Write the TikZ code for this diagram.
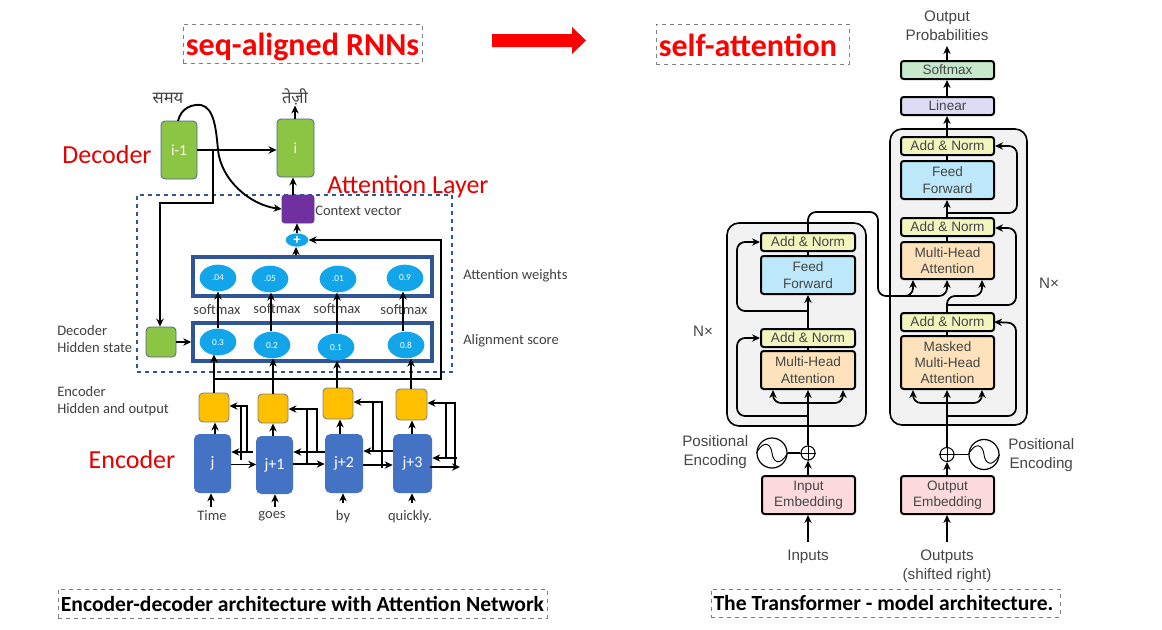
\documentclass[tikz,border=0pt]{standalone}
\usepackage{fontspec}
\setmainfont{Carlito}
\newfontfamily\helv{Liberation Sans}
\newfontfamily\deva[Script=Devanagari]{Noto Sans}
\usetikzlibrary{arrows.meta,calc,shapes.geometric}
\definecolor{lgreen}{HTML}{8CC443}
\definecolor{lpurple}{HTML}{7030A0}
\definecolor{lblue}{HTML}{4472C4}
\definecolor{lorange}{HTML}{FFC000}
\definecolor{lell}{HTML}{12A5EA}
\definecolor{ldark}{HTML}{2F5597}
\definecolor{ltxt}{HTML}{404040}
\definecolor{rtxt}{HTML}{454545}
\definecolor{ran}{HTML}{F2F5BE}
\definecolor{rff}{HTML}{BDE8F9}
\definecolor{rmh}{HTML}{FDE2BB}
\definecolor{rem}{HTML}{FDDADD}
\definecolor{rsm}{HTML}{C6E9CC}
\definecolor{rli}{HTML}{DCDDF5}
\definecolor{rbg}{HTML}{F2F2F2}
\newcommand{\bx}[7][]{%
  \pgfmathsetmacro{\cxx}{(#3+#5)/2}\pgfmathsetmacro{\cyy}{(#4+#6)/2}%
  \pgfmathsetmacro{\wdd}{(#5-#3)*0.75}\pgfmathsetmacro{\htt}{(#6-#4)*0.75}%
  \node[#1,minimum width=\wdd pt,minimum height=\htt pt] (#2) at (\cxx,\cyy) {#7};}
\tikzset{
  titlebox/.style={draw=gray,dashed,line width=0.5pt,inner sep=0pt,font=\bfseries},
  redtitle/.style={titlebox,text=red,font=\fontsize{24}{24}\selectfont\bfseries},
  blacktitle/.style={titlebox,text=black,font=\fontsize{16.2}{16.2}\selectfont\bfseries},
  redlabel/.style={text=red!90!black,inner sep=0pt,font=\fontsize{19.5}{20}\selectfont},
  greylabel/.style={text=ltxt,inner sep=0pt,font=\fontsize{10.9}{12.75}\selectfont,align=left},
  wordlabel/.style={text=ltxt,inner sep=0pt,font=\fontsize{10.9}{11}\selectfont},
  devalabel/.style={text=ltxt,inner sep=0pt,font=\deva\fontsize{12.4}{12.4}\selectfont},
  greenbox/.style={draw=ldark!60!gray,line width=0.6pt,fill=lgreen,rounded corners=3pt,text=white,inner sep=0pt,font=\fontsize{11.5}{11.5}\selectfont},
  purplebox/.style={draw=lpurple!70!ldark,line width=0.5pt,fill=lpurple,rounded corners=2pt,inner sep=0pt},
  bluebox/.style={fill=lblue,rounded corners=4pt,text=white,inner sep=0pt,font=\fontsize{12}{12}\selectfont},
  orangebox/.style={draw=gray,line width=0.7pt,fill=lorange,rounded corners=3pt,inner sep=0pt},
  scorebox/.style={draw=ldark,line width=2.6pt,fill=white,inner sep=0pt},
  scoreell/.style={ellipse,fill=lell,text=white,inner sep=0pt,font=\fontsize{7}{7}\selectfont,minimum width=27.5pt,minimum height=20pt},
  plusell/.style={ellipse,fill=lell,text=white,inner sep=0pt,font=\fontsize{11}{9}\selectfont\bfseries,minimum width=17pt,minimum height=10pt,text height=6pt,text depth=0pt},
  conn/.style={draw=black,line width=1.4pt,-{Stealth[length=6pt,width=5.5pt]}},
  plainconn/.style={draw=black,line width=1.4pt},
  rbox/.style={draw=black,line width=1.5pt,rounded corners=2pt,inner sep=0pt,text=rtxt,align=center,font=\helv\fontsize{10.2}{12.2}\selectfont},
  rlabel/.style={text=rtxt,inner sep=0pt,align=center,font=\helv\fontsize{11.4}{14}\selectfont},
  rconn/.style={draw=black,line width=1.3pt,rounded corners=6pt,-{Stealth[length=6pt,width=5.5pt]}},
  rplain/.style={draw=black,line width=1.3pt,rounded corners=6pt},
  stack/.style={draw=black,line width=1.2pt,fill=rbg,rounded corners=9pt,inner sep=0pt},
  addc/.style={circle,draw=black,line width=0.8pt,fill=white,inner sep=0pt,minimum size=10.5pt},
  sinc/.style={circle,draw=black,line width=0.9pt,fill=white,inner sep=0pt,minimum size=22.5pt},
}
\begin{document}
\begin{tikzpicture}[x=0.75pt,y=-0.75pt]
\useasboundingbox (0,0) rectangle (1162,629);

% titles
\bx[redtitle]{t1}{183}{24}{422}{63}{\raisebox{-9pt}[0pt][0pt]{seq-aligned RNNs}}
\bx[redtitle]{t2}{656}{24}{849}{64}{\raisebox{-9pt}[0pt][0pt]{self-attention}\kern7pt}
\bx[blacktitle]{t3}{58}{589}{547}{618}{\raisebox{-5.8pt}[0pt][0pt]{Encoder-decoder architecture with Attention Network}}
\bx[blacktitle]{t4}{711}{589}{1060}{617}{\raisebox{-5.8pt}[0pt][0pt]{The Transformer - model architecture.}\kern3pt}
\fill[red] (492,34) -- (572,34) -- (572,27) -- (586,40.5) -- (572,54) -- (572,47) -- (492,47) -- cycle;

% ---- left diagram ----
\bx[draw=ldark,dashed,line width=1pt,inner sep=0pt]{attn}{137}{195}{452}{372}{}
\node[redlabel] (lDec) at (107,155) {Decoder};
\node[redlabel] (lEnc) at (132,460) {Encoder};
\node[redlabel] (lAtt) at (408,187) {Attention Layer};
\node[greylabel,anchor=west] (lCtx) at (315,211) {Context vector};
\node[greylabel,anchor=west] (lAw) at (463,276) {Attention weights};
\node[greylabel,anchor=west] (lAs) at (463,341) {Alignment score};
\node[greylabel,anchor=west] (lDh) at (57,338.5) {Decoder\\Hidden state};
\node[greylabel,anchor=west] (lEh) at (57,401.5) {Encoder\\Hidden and output};
\node[devalabel] (wSamay) at (168,98) {समय};
\node[devalabel] (wTezi) at (295,97) {तेज़ी};

\bx[greenbox]{im}{161}{121}{197}{179}{i-1}
\bx[greenbox]{ii}{277}{119}{314}{177}{i}
\bx[purplebox]{ctx}{282}{195}{314}{223}{}
\node[plusell] (pl) at (297,240) {+};
\bx[scorebox]{wbox}{193}{257}{432}{296}{}
\bx[scorebox]{abox}{193}{323}{432}{361}{}
\node[scoreell] (w1) at (218,278) {.04};
\node[scoreell] (w2) at (270,279) {.05};
\node[scoreell] (w3) at (338,279) {.01};
\node[scoreell] (w4) at (405,278) {0.9};
\node[scoreell] (a1) at (218,342) {0.3};
\node[scoreell] (a2) at (272,345) {0.2};
\node[scoreell] (a3) at (336,347) {0.1};
\node[scoreell] (a4) at (406,345) {0.8};
\bx[greenbox]{dh}{146}{327}{176}{357}{}
\bx[orangebox]{o1}{199}{393}{229}{422}{}
\bx[orangebox]{o2}{258}{394}{288}{423}{}
\bx[orangebox]{o3}{323}{388}{353}{419}{}
\bx[orangebox]{o4}{396}{389}{427}{420}{}
\bx[bluebox]{e1}{194}{434}{231}{493}{j}
\bx[bluebox]{e2}{256}{436}{293}{494}{j+1}
\bx[bluebox]{e3}{325}{434}{363}{493}{j+2}
\bx[bluebox]{e4}{393}{434}{432}{493}{j+3}
\node[wordlabel] (s1) at (217,310) {softmax};
\node[wordlabel] (s2) at (277,309) {softmax};
\node[wordlabel] (s3) at (337,309) {softmax};
\node[wordlabel] (s4) at (404,310) {softmax};
\node[wordlabel] (w01) at (212,516) {Time};
\node[wordlabel] (w02) at (272,516) {goes};
\node[wordlabel] (w03) at (343,517) {by};
\node[wordlabel] (w04) at (410,517) {quickly.};

\coordinate (sw1) at (211,507); \coordinate (sw2) at (275,507);
\coordinate (sw3) at (343,503); \coordinate (sw4) at (412,503);
\coordinate (outF) at (460,467); \coordinate (inB) at (457,458);
\draw[conn] (sw1) -- (sw1 |- e1.south);
\draw[conn] (sw2) -- (sw2 |- e2.south);
\draw[conn] (sw3) -- (sw3 |- e3.south);
\draw[conn] (sw4) -- (sw4 |- e4.south);
% blue to orange
\draw[conn] (e1.north -| 215,0) -- (o1.south -| 215,0);
\draw[conn] (e2.north -| 273,0) -- (o2.south -| 273,0);
\draw[conn] (e3.north -| 340,0) -- (o3.south -| 340,0);
\draw[conn] (e4.north -| 412,0) -- (o4.south -| 412,0);
% forward / backward
\draw[conn] (e1.east) ++(0,1) -- ++(25,0);
\draw[conn] (e2.east) ++(0,-1) -- (e3.west |- 0,464);
\draw[conn] (e3.east) ++(0,1.5) -- (e4.west |- 0,465);
\draw[conn] (e4.east) ++(-2,3.5) -- (outF);
\draw[conn] (e2.west) ++(-3,-13) -- (e1.east |- 0,452);
\draw[conn] (e3.west) ++(0,-11.5) -- (e2.east |- 0,452);
\draw[conn] (e4.west) ++(0,-12.5) -- (e3.east |- 0,451);
\draw[conn] (inB) -- (e4.east |- inB);
% encoder hidden to orange
\draw[conn] (247,452) |- (o1.east |- 0,406);
\draw[plainconn] (241,460) -- (241,406);
\draw[conn] (317,452) |- (o2.east |- 0,409);
\draw[plainconn] (307,463) -- (307,409);
\draw[conn] (382,468) |- (o3.east |- 0,402);
\draw[plainconn] (373,451) -- (373,402);
\draw[conn] (455,467) |- (o4.east |- 0,403);
\draw[plainconn] (446,458) -- (446,403);
% orange to alignment
\draw[conn] (o1.north -| a1.south) ++(-4,0) -- ++(0,-38);
\draw[conn] (o2.north -| a2.south) ++(1,0) -- ++(0,-35);
\draw[conn] (o3.north -| 337,0) -- (a3.south -| 337,0);
\draw[conn] (o4.north -| 411,0) -- (a4.south -| 411,0);
% alignment to weights
\draw[conn] (a1.north -| w1.south) -- (w1.south);
\draw[conn] ($(a2.north)+(-1,0)$) -- (w2.south -| 271,0);
\draw[conn] (a3.north -| 337,0) -- (w3.south -| 337,0);
\draw[conn] (a4.north -| 403,0) -- (w4.south -| 403,0);
% top
\draw[conn] (ctx.north -| 293,0) -- (ii.south -| 293,0);
\draw[conn] (ii.north -| wTezi.south) -- (wTezi.south);
\draw[conn] (pl.north) -- (ctx.south -| pl.north);
\draw[conn] (wbox.north -| 296,0) -- (pl.south -| 296,0);
\draw[conn] (214,379) -- (441,379) -- (441,240) -- (pl.east);
\draw[conn] (im.east) -- (im.east -| ii.west);
\coordinate (brk) at (213,150);
\draw[conn] (brk) -- (213,203) -- (160,203) -- (dh.north -| 160,0);
\draw[conn] (dh.east) -- (abox.west |- dh.east);
\draw[conn] (178,121) .. controls (181,108) and (192,104) .. (201,105)
  .. controls (214,108) and (216,128) .. (218,150)
  .. controls (221,180) and (250,205) .. (ctx.west |- 0,209);

% ---- right diagram ----
\bx[stack]{encS}{727}{223}{866}{426}{}
\bx[stack]{decS}{890}{129}{1027}{425}{}
\node[rlabel] (nx1) at (703,331) {N×};
\node[rlabel] (nx2) at (1049,283) {N×};
\node[rlabel] (op) at (947,26) {Output\\Probabilities};
\node[rlabel] (inp) at (808,557) {Inputs};
\node[rlabel] (outp) at (947,566.5) {Outputs\\(shifted right)};
\node[rlabel,anchor=west] (pe1) at (682,452) {Positional\\Encoding};
\node[rlabel,anchor=west] (pe2) at (1008,455) {Positional\\Encoding};

\bx[rbox,fill=rsm]{sm}{901}{61}{994}{79}{\raisebox{-0.6pt}{Softmax}}
\bx[rbox,fill=rli]{li}{901}{97}{994}{115}{\raisebox{-0.6pt}{Linear}}
\bx[rbox,fill=ran]{an4}{901}{137}{994}{155}{\raisebox{-0.6pt}{Add \& Norm}}
\bx[rbox,fill=rff]{ff2}{901}{161}{994}{199}{Feed\\Forward}
\bx[rbox,fill=ran]{an3}{901}{218}{994}{236}{\raisebox{-0.6pt}{Add \& Norm}}
\bx[rbox,fill=rmh]{mh3}{901}{242}{994}{279}{Multi-Head\\Attention}
\bx[rbox,fill=ran]{an2d}{901}{313}{994}{331}{\raisebox{-0.6pt}{Add \& Norm}}
\bx[rbox,fill=rmh]{mm}{901}{336}{994}{389}{Masked\\Multi-Head\\Attention}
\bx[rbox,fill=rem]{oe}{901}{476}{994}{514}{Output\\Embedding}
\bx[rbox,fill=ran]{an1}{761}{233}{855}{251}{\raisebox{-0.6pt}{Add \& Norm}}
\bx[rbox,fill=rff]{ff1}{761}{256}{855}{294}{Feed\\Forward}
\bx[rbox,fill=ran]{an0}{761}{329}{855}{347}{\raisebox{-0.6pt}{Add \& Norm}}
\bx[rbox,fill=rmh]{mh0}{761}{351}{855}{389}{Multi-Head\\Attention}
\bx[rbox,fill=rem]{ie}{762}{476}{855}{514}{Input\\Embedding}

\node[addc] (pa) at (808,453) {};
\node[addc] (pb) at (947,454.5) {};
\draw[line width=0.7pt] (pa.north) -- (pa.south) (pa.west) -- (pa.east);
\draw[line width=0.7pt] (pb.north) -- (pb.south) (pb.west) -- (pb.east);
\node[sinc] (sa) at (772,453) {};
\node[sinc] (sb) at (984,454.5) {};
\foreach \s in {sa,sb}{
  \draw[line width=0.7pt] (\s.west) .. controls ($(\s)+(-8,-14)$) and ($(\s)+(-1,-9)$) .. (\s.center)
    .. controls ($(\s)+(1,9)$) and ($(\s)+(8,14)$) .. (\s.east);
}
\draw[rplain,line width=0.9pt] (sa.east) -- (pa.west);
\draw[rplain,line width=0.9pt] (sb.west) -- (pb.east);

\coordinate (si) at (808,542); \coordinate (so) at (947,542); \coordinate (po) at (947,46);
\draw[rconn] (si) -- (ie.south -| si);
\draw[rconn] (so) -- (oe.south -| so);
\draw[rconn] (ie.north -| pa) -- (pa.south);
\draw[rconn] (oe.north -| pb) -- (pb.south);
\draw[rconn] (pa.north) -- (mh0.south -| pa);
\draw[rconn] (pb.north) -- (mm.south -| pb);
% encoder attention fan
\draw[rconn] (808,403) -- (773,403) -- (mh0.south -| 773,0);
\draw[rconn] (808,403) -- (843,403) -- (mh0.south -| 843,0);
\draw[rconn] (808,416) -- (737,416) -- (737,338) -- (an0.west);
\draw[rplain] (mh0.north -| 808,0) -- (an0.south -| 808,0);
\draw[rconn] (an0.north -| 808,0) -- (ff1.south -| 808,0);
\draw[rconn] (808,311) -- (737,311) -- (737,242) -- (an1.west);
\draw[rplain] (ff1.north -| 808,0) -- (an1.south -| 808,0);
% cross connection
\draw[rconn] (an1.north -| 808,0) -- (808,212) -- (878,212) -- (878,296) -- (913,296) -- (mh3.south -| 913,0);
\draw[rconn] (900,296) -- (947,296) -- (mh3.south -| 947,0);
% decoder
\draw[rconn] (947,403) -- (913,403) -- (mm.south -| 913,0);
\draw[rconn] (947,403) -- (982,403) -- (mm.south -| 982,0);
\draw[rconn] (947,416) -- (1016,416) -- (1016,323) -- (an2d.east -| 994,0);
\draw[rplain] (mm.north -| 947,0) -- (an2d.south -| 947,0);
\draw[rconn] (an2d.north -| 947,0) -- (947,296) -- (982,296) -- (mh3.south -| 982,0);
\draw[rconn] (947,305) -- (1016,305) -- (1016,228) -- (an3.east |- 0,228);
\draw[rplain] (mh3.north -| 947,0) -- (an3.south -| 947,0);
\draw[rconn] (an3.north -| 947,0) -- (ff2.south -| 947,0);
\draw[rconn] (947,213) -- (1017,213) -- (1017,146) -- (an4.east);
\draw[rplain] (ff2.north -| 947,0) -- (an4.south -| 947,0);
\draw[rconn] (an4.north -| 947,0) -- (li.south -| 947,0);
\draw[rconn] (li.north -| 947,0) -- (sm.south -| 947,0);
\draw[rconn] (sm.north -| 947,0) -- (po);
\end{tikzpicture}
\end{document}
